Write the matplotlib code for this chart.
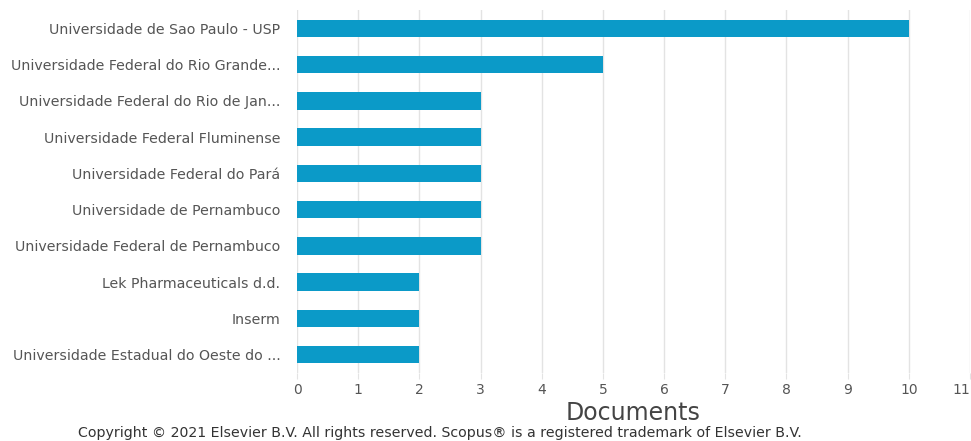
import matplotlib.pyplot as plt

# Data
affiliations = [
    'Universidade de Sao Paulo - USP',
    'Universidade Federal do Rio Grande...',
    'Universidade Federal do Rio de Jan...',
    'Universidade Federal Fluminense',
    'Universidade Federal do Pará',
    'Universidade de Pernambuco',
    'Universidade Federal de Pernambuco',
    'Lek Pharmaceuticals d.d.',
    'Inserm',
    'Universidade Estadual do Oeste do ...',
]
documents = [10, 5, 3, 3, 3, 3, 3, 2, 2, 2]
xticks = list(range(0, 12))

bar_color = '#0b9ac8'
grid_color = '#e3e3e3'
text_color = '#555555'

fig = plt.figure(figsize=(9.71, 4.41), dpi=100)
ax = fig.add_axes([297/971, 1-373/441, 673/971, 363/441])

ypos = list(range(len(affiliations)))
ax.barh(ypos, documents, height=0.48, color=bar_color, zorder=3)

ax.set_ylim(9.51, -0.51)
ax.set_xlim(0, 11)
ax.set_yticks(ypos)
ax.set_yticklabels(affiliations)
ax.set_xticks(xticks)

ax.grid(axis='x', color=grid_color, linewidth=1, zorder=0)
for s in ax.spines.values():
    s.set_visible(False)

ax.tick_params(axis='y', length=0, pad=12, labelsize=10.2, labelcolor=text_color)
ax.tick_params(axis='x', length=4, color=grid_color, pad=3, labelsize=10,
               labelcolor=text_color)

# last tick label is pulled inside the figure, as in the original
ax.get_xticklabels()[-1].set_ha('right')

ax.set_xlabel('Documents', fontsize=17, color='#444444', labelpad=0)
ax.xaxis.set_label_coords(633/971, 1-413/441, transform=fig.transFigure)
ax.xaxis.label.set_va('center')

fig.text(440/971, 1-433/441,
         'Copyright © 2021 Elsevier B.V. All rights reserved. Scopus® is a registered trademark of Elsevier B.V.',
         ha='center', va='center', fontsize=10.2, color='#333333')

fig.savefig('out.png', dpi=100)
